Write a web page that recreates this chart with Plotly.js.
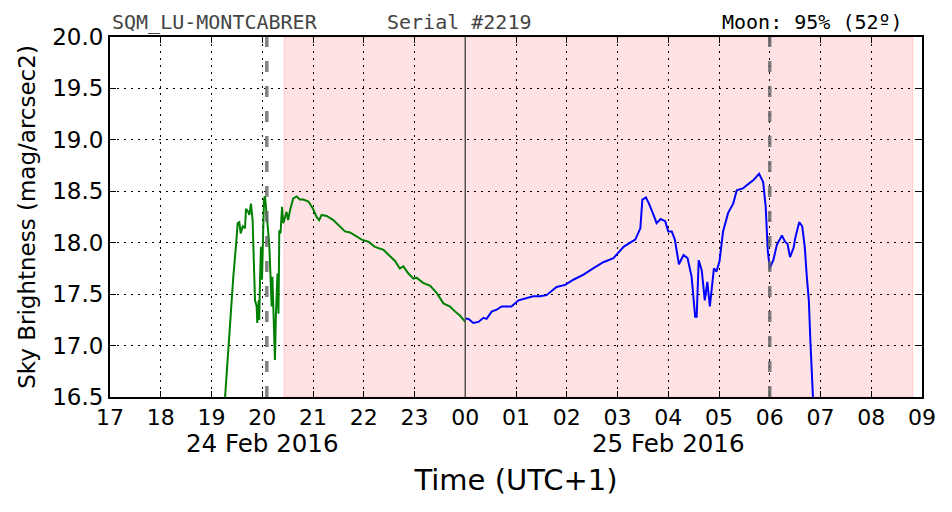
<!DOCTYPE html>
<html>
<head>
<meta charset="utf-8">
<script src="https://cdn.plot.ly/plotly-3.0.1.min.js"></script>
<style>html,body{margin:0;padding:0;background:#fff;}#chart{width:952px;height:512px;}</style>
</head>
<body>
<div id="chart"></div>
<script>
// Hours counted from 24 Feb 2016 00:00 (UTC+1)
var greenTime = [19.24,19.266,19.33,19.378,19.43,19.48,19.516,19.548,19.575,19.615,19.66,19.68,19.725,19.745,19.778,19.81,19.843,19.857,19.89,19.902,19.93,19.94,19.956,19.975,19.995,20.009,20.034,20.054,20.088,20.12,20.14,20.166,20.186,20.2,20.22,20.25,20.27,20.30,20.32,20.336,20.36,20.39,20.415,20.45,20.48,20.51,20.55,20.61,20.68,20.74,20.81,20.91,21.0,21.07,21.12,21.17,21.27,21.40,21.53,21.63,21.73,21.86,21.96,22.09,22.22,22.39,22.55,22.62,22.71,22.78,22.88,22.98,23.04,23.17,23.31,23.44,23.57,23.70,23.80,23.90,24.0];
var greenMag = [16.30,16.50,16.99,17.28,17.67,17.96,18.19,18.20,18.09,18.16,18.14,18.33,18.30,18.27,18.38,18.22,17.64,17.44,17.38,17.22,17.44,17.25,17.64,17.96,17.64,17.96,18.42,18.45,18.29,18.09,17.96,17.64,17.38,17.67,17.31,16.86,17.31,17.70,17.31,18.12,18.09,18.35,18.19,18.25,18.30,18.22,18.32,18.43,18.45,18.42,18.42,18.40,18.33,18.25,18.22,18.27,18.26,18.22,18.16,18.11,18.10,18.06,18.03,18.01,17.96,17.93,17.86,17.82,17.75,17.77,17.70,17.65,17.66,17.61,17.58,17.51,17.41,17.38,17.33,17.29,17.23];
var blueTime = [24.0,24.06,24.16,24.26,24.36,24.42,24.52,24.62,24.72,24.91,25.05,25.21,25.34,25.47,25.60,25.80,25.97,26.13,26.33,26.52,26.72,26.92,27.02,27.12,27.25,27.35,27.45,27.49,27.56,27.62,27.71,27.77,27.85,27.94,28.0,28.07,28.13,28.21,28.30,28.38,28.46,28.53,28.56,28.60,28.66,28.72,28.77,28.82,28.90,28.95,29.01,29.08,29.18,29.28,29.35,29.48,29.55,29.68,29.79,29.87,29.92,29.96,30.0,30.07,30.14,30.24,30.30,30.35,30.40,30.47,30.50,30.58,30.64,30.69,30.73,30.77,30.80,30.85,30.87];
var blueMag = [17.26,17.26,17.22,17.23,17.27,17.26,17.33,17.35,17.38,17.38,17.44,17.46,17.48,17.48,17.49,17.57,17.59,17.64,17.69,17.75,17.81,17.85,17.90,17.96,18.00,18.03,18.14,18.42,18.44,18.38,18.27,18.19,18.23,18.21,18.11,18.11,18.03,17.79,17.88,17.85,17.67,17.28,17.28,17.83,17.73,17.44,17.62,17.38,17.75,17.72,17.82,18.11,18.29,18.38,18.51,18.53,18.56,18.61,18.67,18.59,18.35,17.93,17.75,17.83,17.98,18.07,18.01,17.99,17.86,17.95,18.04,18.20,18.16,17.96,17.67,17.44,17.05,16.50,16.30];

var tickVals = [17,18,19,20,21,22,23,24,25,26,27,28,29,30,31,32,33];
var tickText = ['17','18','19','20','21','22','23','00','01','02','03','04','05','06','07','08','09'];
var dateVals = [20, 28];
var dateText = ['24 Feb 2016', '25 Feb 2016'];
var yTickVals = [16.5,17.0,17.5,18.0,18.5,19.0,19.5,20.0];
var yTickText = ['16.5','17.0','17.5','18.0','18.5','19.0','19.5','20.0'];

var moonWindow = [20.43, 32.82];   // moon above horizon (shaded)
var twilightTimes = [20.09, 30.0]; // astronomical twilight
var midnightTime = 24.0;

var traces = [
  {x: greenTime, y: greenMag, type: 'scatter', mode: 'lines', line: {color: '#008000', width: 2}, hoverinfo: 'skip'},
  {x: blueTime, y: blueMag, type: 'scatter', mode: 'lines', line: {color: '#0000ff', width: 2}, hoverinfo: 'skip'}
];

var shapes = [
  {type: 'rect', xref: 'x', yref: 'paper', x0: moonWindow[0], x1: moonWindow[1], y0: 0, y1: 1,
   fillcolor: 'rgba(255,0,20,0.115)', line: {color: 'rgba(255,0,20,0.15)', width: 1}, layer: 'below'},
  {type: 'line', xref: 'x', yref: 'paper', x0: midnightTime, x1: midnightTime, y0: 0, y1: 1,
   line: {color: '#555555', width: 1.5}}
];
twilightTimes.forEach(function (t) {
  shapes.push({type: 'line', xref: 'x', yref: 'paper', x0: t, x1: t, y0: 0, y1: 1,
    line: {color: 'rgba(100,100,100,0.8)', width: 3.5, dash: '11px,14px'}});
});

var mono = 'DejaVu Sans Mono, monospace';
var annotations = [
  {xref: 'paper', yref: 'paper', x: 0, y: 1, xanchor: 'left', yanchor: 'bottom', yshift: 1,
   text: 'SQM_LU-MONTCABRER', showarrow: false, font: {family: mono, size: 20, color: '#444444'}},
  {xref: 'paper', yref: 'paper', x: 0.3387, y: 1, xanchor: 'left', yanchor: 'bottom', yshift: 1,
   text: 'Serial #2219', showarrow: false, font: {family: mono, size: 20, color: '#444444'}},
  {xref: 'paper', yref: 'paper', x: 0.979, y: 1, xanchor: 'right', yanchor: 'bottom', yshift: 1,
   text: 'Moon: 95% (52º)', showarrow: false, font: {family: mono, size: 20, color: '#000000'}}
];
dateVals.forEach(function (v, i) {
  annotations.push({xref: 'x', yref: 'paper', x: v, y: 0, xanchor: 'center', yanchor: 'top', yshift: -30,
    text: dateText[i], showarrow: false, font: {size: 24.5, color: '#000'}});
});

var layout = {
  width: 952, height: 512,
  margin: {l: 110, r: 30, t: 37, b: 115},
  paper_bgcolor: '#ffffff', plot_bgcolor: '#ffffff',
  showlegend: false,
  font: {family: 'DejaVu Sans, sans-serif', color: '#000'},
  xaxis: {
    range: [17, 33], tickmode: 'array', tickvals: tickVals, ticktext: tickText, tickangle: 0,
    ticks: 'inside', ticklen: 6, tickwidth: 1, tickcolor: '#000',
    showline: true, linecolor: '#000', linewidth: 2, mirror: 'ticks',
    showgrid: true, gridcolor: '#000', gridwidth: 1, griddash: '2px,5px',
    zeroline: false, tickfont: {size: 22, color: '#000'}, automargin: false,
    title: {text: 'Time (UTC+1)', font: {size: 29, color: '#000'}, standoff: 40}
  },
  yaxis: {
    range: [16.5, 20.0], tickmode: 'array', tickvals: yTickVals, ticktext: yTickText,
    ticks: 'inside', ticklen: 6, tickwidth: 1, tickcolor: '#000',
    showline: true, linecolor: '#000', linewidth: 2, mirror: 'ticks',
    showgrid: true, gridcolor: '#000', gridwidth: 1, griddash: '2px,5px',
    zeroline: false, tickfont: {size: 23, color: '#000'}, automargin: false,
    title: {text: 'Sky Brightness (mag/arcsec2)', font: {size: 23, color: '#000'}, standoff: 10}
  },
  shapes: shapes,
  annotations: annotations
};

Plotly.newPlot('chart', traces, layout, {staticPlot: true, displayModeBar: false});
</script>
</body>
</html>
